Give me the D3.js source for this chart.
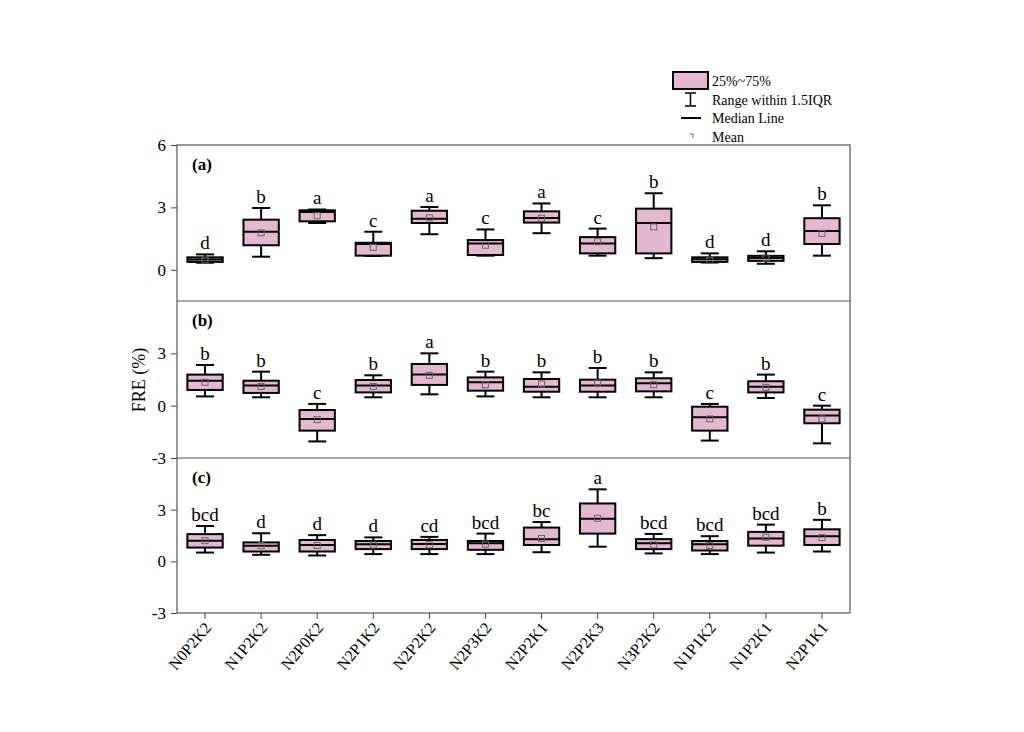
<!DOCTYPE html>
<html>
<head>
<meta charset="utf-8">
<title>FRE boxplots</title>
<script src="https://cdnjs.cloudflare.com/ajax/libs/d3/7.8.5/d3.min.js"></script>
<style>
  body { margin: 0; background: #fff; }
  text { font-family: "Liberation Serif", "Times New Roman", serif; }
</style>
</head>
<body>
<div id="chart"></div>
<script>
// treatments along x
var groups = ["N0P2K2", "N1P2K2", "N2P0K2", "N2P1K2", "N2P2K2", "N2P3K2",
              "N2P2K1", "N2P2K3", "N3P2K2", "N1P1K2", "N1P2K1", "N2P1K1"];

// [lower whisker, q1, median, q3, upper whisker]
var boxesA = [[0.34,0.38,0.49,0.6,0.74],[0.63,1.18,1.83,2.41,2.97],[2.25,2.33,2.78,2.86,2.9],
              [0.67,0.68,1.24,1.3,1.83],[1.71,2.25,2.46,2.84,3.02],[0.68,0.71,1.27,1.43,1.94],
              [1.76,2.27,2.49,2.81,3.19],[0.68,0.79,1.27,1.57,1.98],[0.56,0.79,2.25,2.94,3.68],
              [0.35,0.38,0.51,0.6,0.79],[0.29,0.43,0.57,0.67,0.89],[0.68,1.24,1.86,2.48,3.1]];
var meansA = [0.47,1.78,2.6,1.08,2.5,1.18,2.48,1.35,2.06,0.46,0.57,1.75];
var lettersA = ["d","b","a","c","a","c","a","c","b","d","d","b"];

var boxesB = [[0.53,0.9,1.43,1.78,2.33],[0.48,0.73,1.15,1.43,1.95],[-2.05,-1.43,-0.76,-0.25,0.1],
              [0.48,0.76,1.15,1.47,1.74],[0.65,1.19,1.78,2.39,3.0],[0.53,0.86,1.34,1.62,1.95],
              [0.48,0.8,1.09,1.53,1.91],[0.48,0.8,1.15,1.49,2.16],[0.48,0.82,1.28,1.57,1.91],
              [-2.0,-1.43,-0.67,-0.06,0.1],[0.44,0.76,1.09,1.4,1.78],[-2.16,-1.01,-0.57,-0.23,0.0]];
var meansB = [1.34,1.1,-0.8,1.1,1.74,1.2,1.25,1.3,1.2,-0.76,1.05,-0.76];
var lettersB = ["b","b","c","b","a","b","b","b","b","c","b","c"];

var boxesC = [[0.51,0.8,1.2,1.58,2.05],[0.38,0.57,0.91,1.1,1.63],[0.34,0.57,0.95,1.24,1.52],
              [0.42,0.71,0.99,1.18,1.39],[0.42,0.71,1.01,1.24,1.42],[0.42,0.67,1.05,1.18,1.61],
              [0.53,0.95,1.28,1.96,2.28],[0.85,1.61,2.47,3.36,4.18],[0.46,0.71,1.05,1.29,1.59],
              [0.42,0.63,0.99,1.18,1.46],[0.51,0.91,1.33,1.71,2.13],[0.57,0.95,1.46,1.86,2.41]];
var meansC = [1.2,0.91,0.92,0.95,0.96,1.0,1.33,2.5,0.96,0.92,1.4,1.38];
var lettersC = ["bcd","d","d","d","cd","bcd","bc","a","bcd","bcd","bcd","b"];

var panelNames = ["(a)", "(b)", "(c)"];
var yDomains = [[-1.5, 6], [-3, 6], [-3, 6]];
var yTicks = [[0, 3, 6], [-3, 0, 3], [-3, 0, 3]];

var legendItems = ["25%~75%", "Range within 1.5IQR", "Median Line", "Mean"];

var W = 1024, H = 732;
var left = 177, right = 850;
var panelTops = [145, 301, 458], panelBottoms = [301, 458, 613];
var fillPink = "#e5b8d1";

var svg = d3.select("#chart").append("svg")
  .attr("width", W).attr("height", H);

var x = d3.scaleBand().domain(groups).range([left, right]).paddingInner(0.37).paddingOuter(0.185);
var bw = x.bandwidth();

var panels = [
  { boxes: boxesA, means: meansA, letters: lettersA },
  { boxes: boxesB, means: meansB, letters: lettersB },
  { boxes: boxesC, means: meansC, letters: lettersC }
];

panels.forEach(function(p, k) {
  var y = d3.scaleLinear().domain(yDomains[k]).range([panelBottoms[k], panelTops[k]]);
  var g = svg.append("g");

  var ax = g.append("g")
    .attr("transform", "translate(" + left + ",0)")
    .call(d3.axisLeft(y).tickValues(yTicks[k]).tickSize(6).tickPadding(5)
      .tickFormat(function(d) { return String(d); }));
  ax.select(".domain").remove();
  ax.selectAll("line").attr("stroke", "#444");
  ax.selectAll("text").style("font-size", "17px").attr("fill", "#000");

  var b = g.selectAll(".box").data(p.boxes).enter().append("g")
    .attr("transform", function(d, i) { return "translate(" + x(groups[i]) + ",0)"; });

  // whisker stems and caps
  b.append("line").attr("x1", bw / 2).attr("x2", bw / 2)
    .attr("y1", function(d) { return y(d[0]); }).attr("y2", function(d) { return y(d[4]); })
    .attr("stroke", "#000").attr("stroke-width", 2);
  [0, 4].forEach(function(j) {
    b.append("line").attr("x1", bw / 2 - 9).attr("x2", bw / 2 + 9)
      .attr("y1", function(d) { return y(d[j]); }).attr("y2", function(d) { return y(d[j]); })
      .attr("stroke", "#000").attr("stroke-width", 2);
  });
  b.append("rect").attr("x", 0).attr("width", bw)
    .attr("y", function(d) { return y(d[3]); })
    .attr("height", function(d) { return Math.max(1, y(d[1]) - y(d[3])); })
    .attr("fill", fillPink).attr("stroke", "#000").attr("stroke-width", 2);
  b.append("line").attr("x1", 0).attr("x2", bw)
    .attr("y1", function(d) { return y(d[2]); }).attr("y2", function(d) { return y(d[2]); })
    .attr("stroke", "#000").attr("stroke-width", 2);
  b.append("rect")
    .attr("x", bw / 2 - 3).attr("width", 6).attr("height", 6)
    .attr("y", function(d, i) { return y(p.means[i]) - 3; })
    .attr("fill", "none").attr("stroke", "#666").attr("stroke-width", 1);
  b.append("text").attr("x", bw / 2)
    .attr("y", function(d) { return y(d[4]) - 5; })
    .attr("text-anchor", "middle").style("font-size", "19px")
    .text(function(d, i) { return p.letters[i]; });

  g.append("text").attr("x", left + 15).attr("y", panelTops[k] + 25)
    .style("font-size", "17px").style("font-weight", "bold").text(panelNames[k]);
});

// frame and panel separators
svg.append("rect").attr("x", left).attr("y", panelTops[0])
  .attr("width", right - left).attr("height", panelBottoms[2] - panelTops[0])
  .attr("fill", "none").attr("stroke", "#555").attr("stroke-width", 1.2);
[301, 458].forEach(function(yy) {
  svg.append("line").attr("x1", left).attr("x2", right).attr("y1", yy).attr("y2", yy)
    .attr("stroke", "#555").attr("stroke-width", 1.2);
});

// x axis
var xa = svg.append("g").attr("transform", "translate(0," + panelBottoms[2] + ")")
  .call(d3.axisBottom(x).tickSize(6).tickFormat(""));
xa.select(".domain").remove();
xa.selectAll("line").attr("stroke", "#444");
svg.selectAll(".xlab").data(groups).enter().append("text")
  .attr("transform", function(d) { return "translate(" + (x(d) + bw / 2 + 7) + ",628) rotate(-50)"; })
  .attr("text-anchor", "end").style("font-size", "16px").text(function(d) { return d; });

// y label
svg.append("text").attr("transform", "translate(145,380) rotate(-90)")
  .attr("text-anchor", "middle").style("font-size", "18px").text("FRE (%)");

// legend
var lg = svg.append("g").attr("transform", "translate(673,72)");
lg.append("rect").attr("x", 0).attr("y", 0).attr("width", 35).attr("height", 17)
  .attr("fill", fillPink).attr("stroke", "#000").attr("stroke-width", 2);
lg.append("line").attr("x1", 17.5).attr("x2", 17.5).attr("y1", 21).attr("y2", 34).attr("stroke", "#000").attr("stroke-width", 1.5);
lg.append("line").attr("x1", 12).attr("x2", 23).attr("y1", 21).attr("y2", 21).attr("stroke", "#000").attr("stroke-width", 1.5);
lg.append("line").attr("x1", 12).attr("x2", 23).attr("y1", 34).attr("y2", 34).attr("stroke", "#000").attr("stroke-width", 1.5);
lg.append("line").attr("x1", 8).attr("x2", 28).attr("y1", 46).attr("y2", 46).attr("stroke", "#000").attr("stroke-width", 2);
lg.append("path").attr("d", "M17,62 h3 v4").attr("fill", "none").attr("stroke", "#666").attr("stroke-width", 1);
lg.selectAll(".lt").data(legendItems).enter().append("text")
  .attr("x", 39).attr("y", function(d, i) { return 14 + i * 18.5; })
  .style("font-size", "14px").text(function(d) { return d; });
</script>
</body>
</html>
